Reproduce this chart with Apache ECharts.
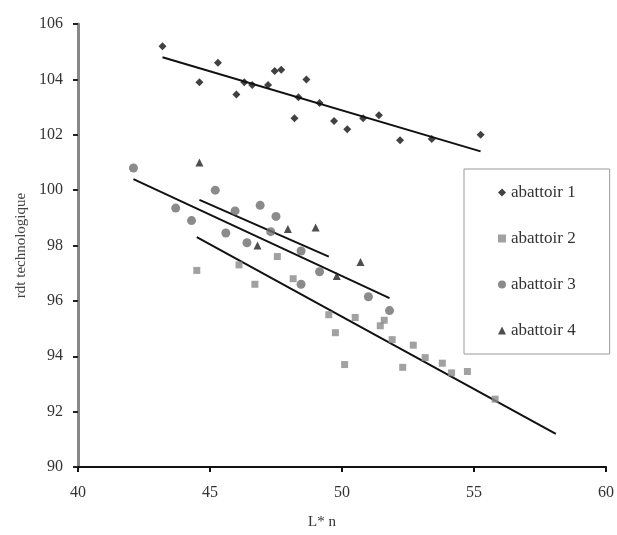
<!DOCTYPE html>
<html>
<head>
<meta charset="utf-8">
<script src="https://cdn.jsdelivr.net/npm/echarts@6/dist/echarts.min.js"></script>
<style>
  html, body { margin: 0; padding: 0; background: #fff; }
  #main { width: 617px; height: 535px; }
</style>
</head>
<body>
<div id="main"></div>
<script>
// points, [L* n, rdt technologique]
var abattoir1 = [
  [43.2, 105.2], [44.6, 103.9], [45.3, 104.6], [46.0, 103.45], [46.3, 103.9],
  [46.6, 103.8], [47.2, 103.8], [47.45, 104.3], [47.7, 104.35], [48.2, 102.6],
  [48.35, 103.35], [48.65, 104.0], [49.15, 103.15], [49.7, 102.5], [50.2, 102.2],
  [50.8, 102.6], [51.4, 102.7], [52.2, 101.8], [53.4, 101.85], [55.25, 102.0]
];
var abattoir2 = [
  [44.5, 97.1], [46.1, 97.3], [46.7, 96.6], [47.55, 97.6], [48.15, 96.8],
  [49.5, 95.5], [49.75, 94.85], [50.1, 93.7], [50.5, 95.4], [51.45, 95.1],
  [51.6, 95.3], [51.9, 94.6], [52.3, 93.6], [52.7, 94.4], [53.15, 93.95],
  [53.8, 93.75], [54.15, 93.4], [54.75, 93.45], [55.8, 92.45]
];
var abattoir3 = [
  [42.1, 100.8], [43.7, 99.35], [44.3, 98.9], [45.2, 100.0], [45.6, 98.45],
  [45.95, 99.25], [46.4, 98.1], [46.9, 99.45], [47.5, 99.05], [47.3, 98.5],
  [48.45, 97.8], [48.45, 96.6], [49.15, 97.05], [51.0, 96.15], [51.8, 95.65]
];
var abattoir4 = [
  [44.6, 101.0], [46.8, 98.0], [47.95, 98.6], [49.0, 98.65], [49.8, 96.9],
  [50.7, 97.4]
];

// trend line end points
var trend1 = [[43.2, 104.8], [55.25, 101.4]];
var trend2 = [[44.5, 98.3], [58.1, 91.2]];
var trend3 = [[42.1, 100.4], [51.8, 96.1]];
var trend4 = [[44.6, 99.65], [49.5, 97.6]];

var names = ['abattoir 1', 'abattoir 2', 'abattoir 3', 'abattoir 4'];

var serif = '"Liberation Serif", "DejaVu Serif", serif';

var chart = echarts.init(document.getElementById('main'));

function trendSeries(pts) {
  return {
    type: 'line',
    data: pts,
    symbol: 'none',
    silent: true,
    lineStyle: { color: '#111', width: 2 },
    z: 1
  };
}

var option = {
  backgroundColor: '#fff',
  animation: false,
  textStyle: { fontFamily: serif },
  grid: { left: 78, right: 6, top: 24, bottom: 66, containLabel: false },
  legend: {
    data: names,
    orient: 'vertical',
    left: 464,
    top: 169,
    padding: [15, 34, 15, 34],
    itemGap: 29,
    itemWidth: 8,
    itemHeight: 8,
    borderColor: '#999',
    borderWidth: 1,
    textStyle: { fontFamily: serif, fontSize: 17, color: '#333' }
  },
  xAxis: {
    type: 'value',
    min: 40, max: 60, interval: 5,
    name: 'L* n',
    nameLocation: 'middle',
    nameGap: 48,
    nameTextStyle: { fontFamily: serif, fontSize: 15, color: '#333', padding: [0, 40, 0, 0] },
    splitLine: { show: false },
    axisLine: { lineStyle: { color: '#111', width: 2 } },
    axisTick: { length: 5, lineStyle: { color: '#111', width: 2 } },
    axisLabel: { margin: 18, fontFamily: serif, fontSize: 16, color: '#333' }
  },
  yAxis: {
    type: 'value',
    min: 90, max: 106, interval: 2,
    name: 'rdt technologique',
    nameLocation: 'middle',
    nameGap: 40,
    nameTextStyle: { fontFamily: serif, fontSize: 15, color: '#444' },
    splitLine: { show: false },
    axisLine: { lineStyle: { color: '#888', width: 3 } },
    axisTick: { length: 5, lineStyle: { color: '#222', width: 2 } },
    axisLabel: { margin: 15, fontFamily: serif, fontSize: 16, color: '#333' }
  },
  series: [
    { name: names[0], type: 'scatter', data: abattoir1, symbol: 'diamond', symbolSize: 8,
      itemStyle: { color: '#111' }, z: 3 },
    { name: names[1], type: 'scatter', data: abattoir2, symbol: 'rect', symbolSize: 7,
      itemStyle: { color: '#8a8a8a' }, z: 3 },
    { name: names[2], type: 'scatter', data: abattoir3, symbol: 'circle', symbolSize: 9,
      itemStyle: { color: '#6e6e6e' }, z: 3 },
    { name: names[3], type: 'scatter', data: abattoir4, symbol: 'triangle', symbolSize: 8,
      itemStyle: { color: '#222' }, z: 3 },
    trendSeries(trend1),
    trendSeries(trend2),
    trendSeries(trend3),
    trendSeries(trend4)
  ]
};

chart.setOption(option);
</script>
</body>
</html>
